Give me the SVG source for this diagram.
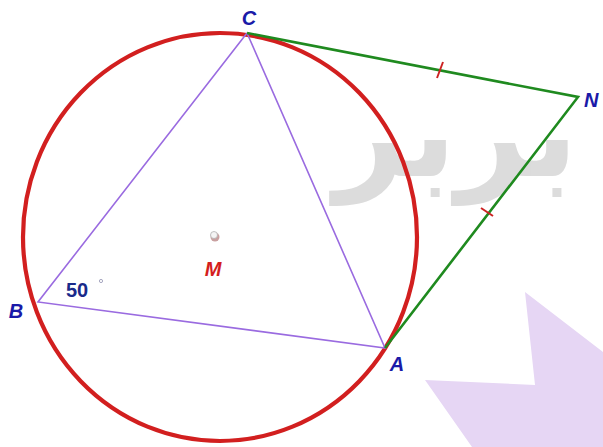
<svg xmlns="http://www.w3.org/2000/svg" width="603" height="447" viewBox="0 0 603 447">
<style>
.lbl{font-family:"Liberation Sans",Arial,sans-serif;font-weight:bold;font-style:italic;font-size:20px;fill:#1a1aa8}
.tri{stroke:#9a6be0;stroke-width:1.6;fill:none}
.tan{stroke:#1f8a1f;stroke-width:2.6;fill:none}
.tick{stroke:#cc2222;stroke-width:2;fill:none}
.wm{font-family:"DejaVu Sans",sans-serif;font-weight:bold;fill:#dcdcdc}
</style>
<rect width="603" height="447" fill="#ffffff"/>
<g id="watermark">
<polygon points="525,292 603,352 603,447 472,447 425,380 535,385" fill="#e6d6f4"/>
<text class="wm" x="456" y="176" font-size="122" text-anchor="middle">بربر</text>
</g>
<g id="circle"><ellipse cx="220" cy="237" rx="197" ry="204" fill="none" stroke="#d21f1f" stroke-width="4.2"/></g>
<g id="connectors">
<polyline class="tri" points="247,33 38,302 385,348 247,33"/>
<polyline class="tan" points="247,33 578,97 385,348"/>
<line class="tick" x1="437" y1="78" x2="443" y2="62"/>
<line class="tick" x1="481" y1="208" x2="493" y2="216"/>
</g>
<g id="M">
<circle cx="215" cy="237" r="4.5" fill="#c9a0a0"/>
<circle cx="214" cy="235" r="3.5" fill="#f4f4f4" stroke="#b0b0b0" stroke-width="0.8"/>
<text x="213" y="276" text-anchor="middle" font-family="Liberation Sans,Arial,sans-serif" font-weight="bold" font-style="italic" font-size="20" fill="#d41e1e">M</text>
</g>
<g id="C"><text class="lbl" x="249" y="25" text-anchor="middle">C</text></g>
<g id="B"><text class="lbl" x="16" y="318" text-anchor="middle">B</text></g>
<g id="A"><text class="lbl" x="397" y="371" text-anchor="middle">A</text></g>
<g id="N"><text class="lbl" x="584" y="107">N</text></g>
<g id="angle">
<text x="66" y="297" font-family="Liberation Sans,Arial,sans-serif" font-weight="bold" font-size="20" fill="#1a2a8a">50</text>
<circle cx="101" cy="281" r="1.6" fill="none" stroke="#9090b0" stroke-width="0.8"/>
</g>
</svg>
